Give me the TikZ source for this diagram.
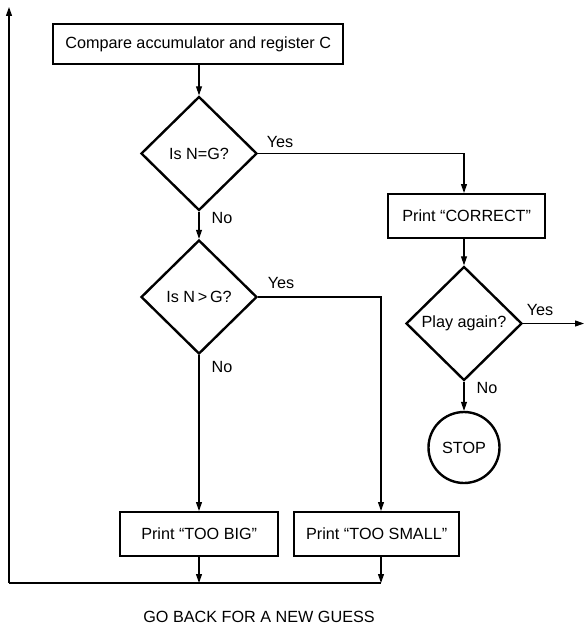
\documentclass[tikz,border=0pt]{standalone}
\usepackage{fontspec}
\setmainfont{Liberation Sans}
\usetikzlibrary{shapes.geometric,arrows.meta}
\begin{document}
\begin{tikzpicture}[x=1pt,y=-1pt,
  font=\fontsize{16.2}{19}\selectfont,
  procbox/.style={draw,line width=2.4pt,rectangle,inner sep=0pt,anchor=north west},
  decision/.style={draw,line width=2.4pt,diamond,aspect=1,inner sep=0pt,
    minimum width=116pt,minimum height=114pt},
  endpoint/.style={draw,line width=2.4pt,circle,inner sep=0pt,minimum size=71pt},
  link/.style={line width=1.1pt},
  arr/.style={link,-{Triangle[length=9pt,width=6pt]}},
  lbl/.style={inner sep=0pt}]
\useasboundingbox (0,0) rectangle (585,626);

% process boxes
\node[procbox,minimum width=290pt,minimum height=40pt] (cmp) at (52,23) {Compare accumulator and register C};
\node[procbox,minimum width=157pt,minimum height=44pt] (correct) at (387,193) {Print “CORRECT”};
\node[procbox,minimum width=158pt,minimum height=44pt] (big) at (119,511) {Print “TOO BIG”};
\node[procbox,minimum width=165pt,minimum height=44pt] (small) at (293,511) {Print “TOO SMALL”};

% decisions
\node[decision] (eq) at (199,153.5) {Is N=G?};
\node[decision] (gt) at (199,297) {Is N\,>\,G?};
\node[decision] (again) at (464,323.5) {Play again?};

% terminal
\node[endpoint] (stop) at (464,447.5) {STOP};

% helper points
\coordinate (eqturn) at (464,153.5);
\coordinate (gtturn) at (381,297);
\coordinate (exit) at (584,323.5);
\coordinate (loopL) at (9,583);
\coordinate (loopR) at (381,583);
\coordinate (loopTop) at (9,7);

% flow
\draw[arr] (cmp.south -| eq.north) -- (eq.north);
\draw[arr] (eq.south) -- (gt.north);
\draw[arr] (eq.east) -- (eqturn) -- (correct.north -| eqturn);
\draw[arr] (correct.south -| again.north) -- (again.north);
\draw[arr] (again.east) -- (exit);
\draw[arr] (again.south) -- (stop.north);
\draw[arr] (gt.south) -- (big.north -| gt.south);
\draw[arr] (gt.east) -- (gtturn) -- (small.north -| gtturn);

% return loop
\draw[arr] (big.south -| gt.south) -- (loopL -| gt.south);
\draw[arr] (small.south -| gtturn) -- (loopR);
\draw[link] (loopL) -- (loopR);
\draw[arr] (loopL) -- (loopTop);

% branch labels
\node[lbl] at (280,142) {Yes};
\node[lbl] at (222,218) {No};
\node[lbl] at (281,283) {Yes};
\node[lbl] at (222,367) {No};
\node[lbl] at (540,310) {Yes};
\node[lbl] at (487,388) {No};

\node[lbl] (goback) at (259,617) {GO BACK FOR A NEW GUESS};
\end{tikzpicture}
\end{document}
